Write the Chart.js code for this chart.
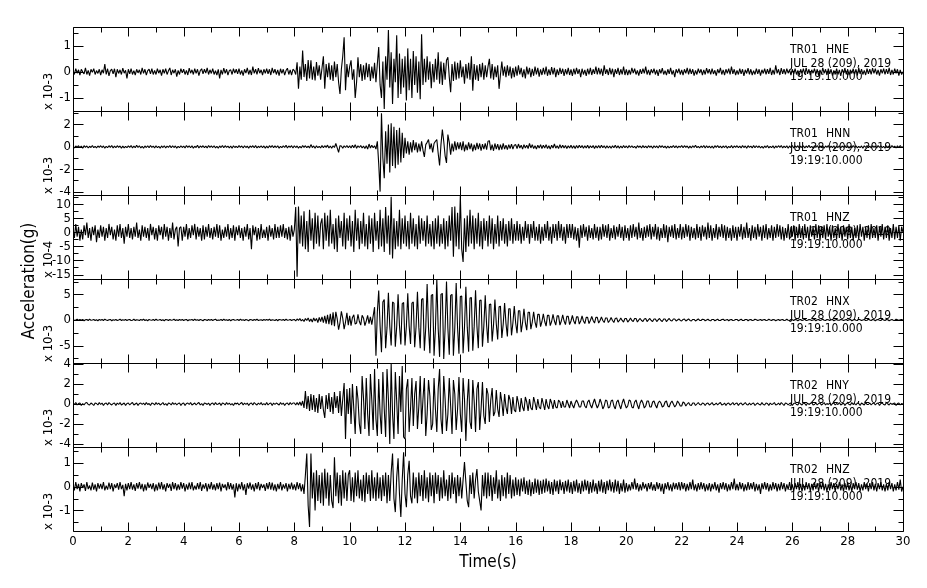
<!DOCTYPE html>
<html>
<head>
<meta charset="utf-8">
<script src="https://cdn.jsdelivr.net/npm/chart.js@4.4.1/dist/chart.umd.min.js"></script>
<style>
  html, body { margin: 0; padding: 0; background: #fff; }
  #wrap { position: relative; width: 927px; height: 588px; }
</style>
</head>
<body>
<div id="wrap"><canvas id="seis"></canvas></div>
<script>
// sample interval of the traces (s)
const DT = 0.05;

// TR01 HNE, x 10-3 g
const TR01_HNE = [
  .05,-.1,.12,-.05,.08,-.12,.1,0,-.08,.15,-.1,.06,-.14,.1,-.02,.12,-.1,.05,-.06,.1,
  -.12,.08,-.05,.3,-.1,.12,-.15,.05,.1,-.08,.12,-.2,.1,-.06,.08,-.1,.14,-.05,.06,-.25,
  .1,-.08,.12,-.1,.05,-.12,.1,-.04,.08,-.1,.15,-.06,.1,-.12,.05,.1,-.08,.12,-.1,.06,
  -.1,.12,-.05,.08,-.14,.1,-.06,.12,-.1,.04,.15,-.12,.08,-.05,.1,-.18,.06,-.1,.12,-.04,
  .1,-.1,.06,-.12,.14,-.05,.08,-.1,.12,-.06,.1,-.14,.05,.12,-.08,.1,-.05,.15,-.1,.08,
  -.06,.12,-.1,.05,-.12,.1,-.25,.08,-.1,.14,-.06,.1,-.12,.05,.08,-.1,.12,-.05,.1,-.08,
  .12,-.1,.06,-.14,.1,-.05,.15,-.1,.08,-.12,.2,-.06,.1,-.1,.14,-.05,.08,-.12,.1,-.06,
  .12,-.08,.1,-.12,.15,-.05,.1,-.1,.08,-.14,.12,-.06,.1,-.12,.05,.14,-.1,.08,-.12,.1,
  .05,-.1,.37,-.65,.2,-.3,.82,-.2,.3,-.35,.45,-.25,.44,-.3,.2,-.33,.38,-.15,.25,-.3,
  .15,.6,-.65,.3,-.2,.35,-.3,.25,-.35,.4,-.2,.3,-.4,-.85,.1,.6,1.33,-.7,.3,-.2,
  .2,.44,-.3,.1,-1.0,-.4,.56,-.2,.3,-.35,.25,-.3,.35,-.2,.3,-.35,.2,-.25,.35,-.4,
  .3,.95,-.5,-1.0,.4,-1.42,.6,-.3,1.6,-.6,.75,-1.23,.5,-.4,1.4,-1.0,.7,-.85,.5,-.6,
  .6,-1.1,.9,-.7,.5,-1.0,.8,-.5,.6,-.8,.4,-1.05,1.44,-.5,.5,-.4,.6,-.3,.4,-.63,
  .3,-.4,.5,-.3,.75,-.45,.4,-.5,.35,-.3,.45,.56,-.2,-.78,.3,-.35,.4,-.3,.35,-.25,
  .44,-.2,.2,-.45,.3,-.25,.35,-.3,.6,-.72,.3,-.3,.25,-.35,.3,-.2,.35,-.3,.25,-.2,
  .2,.5,-.25,.3,-.3,.2,-.2,.25,-.65,-.1,.4,-.15,.2,-.2,.25,-.15,.2,-.25,.15,-.2,
  .2,-.15,.25,-.1,.15,-.2,.1,-.25,.2,-.1,.15,-.2,.12,-.15,.2,-.1,.15,-.18,.1,-.12,
  .15,-.1,.2,-.15,.1,-.12,.18,-.1,.15,-.2,.1,-.12,.15,-.08,.12,-.15,.1,-.1,.15,-.12,
  .1,-.15,.12,-.1,.15,-.08,.1,-.2,.12,-.1,.08,-.15,.12,-.1,.15,-.12,.1,-.08,.2,-.1,
  .15,-.1,.12,-.15,.25,-.08,.1,-.12,.15,-.1,.12,-.2,.1,-.08,.15,-.12,.1,-.1,.2,-.12,
  .1,-.12,.08,-.1,.15,-.05,.12,-.1,.06,-.14,.1,-.08,.12,-.06,.2,-.1,.08,-.12,.1,-.05,
  .12,-.1,.08,-.15,.1,-.06,.14,-.1,.05,-.12,.1,-.08,.15,-.1,.06,-.2,.1,-.05,.12,-.1,
  .08,-.12,.1,-.06,.15,-.1,.12,-.08,.1,-.14,.06,-.1,.12,-.05,.1,-.12,.08,-.1,.14,-.06,
  .1,-.1,.12,-.08,.06,-.14,.1,-.05,.15,-.1,.08,-.12,.1,-.06,.12,-.1,.2,-.08,.1,-.12,
  .06,-.1,.12,-.08,.1,-.15,.08,-.06,.14,-.1,.1,-.12,.05,-.1,.12,-.08,.1,-.14,.08,-.06,
  .12,-.1,.1,-.08,.15,-.12,.08,-.1,.25,-.06,.1,-.12,.14,-.08,.1,-.1,.12,-.05,.08,-.12,
  .1,-.08,.12,-.1,.06,-.14,.1,-.06,.12,-.1,.15,-.08,.1,-.12,.08,-.05,.12,-.1,.1,-.14,
  .08,-.1,.15,-.06,.1,-.12,.12,-.08,.1,-.14,.06,-.1,.12,-.1,.08,-.15,.1,-.05,.14,-.1,
  .1,-.12,.08,-.06,.12,-.1,.1,-.14,.15,-.08,.1,-.1,.06,-.12,.12,-.08,.1,-.1,.14,-.06,
  .12,-.1,.08,-.14,.1,-.06,.12,-.1,.1,-.08,.15,-.12,.08,-.1,.12,-.06,.1,-.14,.08,-.1,
  0
];

// TR01 HNN, x 10-3 g
const TR01_HNN = [
  .05,-.1,.08,-.05,.1,-.08,.06,-.12,.1,-.04,.08,-.1,.05,-.06,.12,-.08,.05,-.1,.08,-.05,
  .1,-.06,.08,-.12,.05,-.08,.1,-.05,.12,-.1,.06,-.08,.1,-.04,.08,-.12,.06,-.1,.05,-.08,
  .08,-.05,.12,-.1,.06,-.08,.15,-.06,.1,-.1,.05,-.12,.08,-.06,.1,-.08,.12,-.05,.06,-.1,
  .1,-.08,.05,-.12,.08,-.06,.1,-.1,.06,-.05,.12,-.08,.1,-.06,.08,-.12,.05,-.08,.1,-.06,
  .06,-.1,.12,-.05,.08,-.08,.1,-.12,.05,-.06,.15,-.1,.08,-.05,.1,-.08,.06,-.1,.12,-.05,
  .08,-.06,.1,-.1,.05,-.12,.08,-.06,.12,-.08,.1,-.05,.06,-.1,.08,-.12,.1,-.06,.05,-.08,
  .12,-.05,.08,-.1,.1,-.06,.06,-.12,.08,-.05,.1,-.08,.12,-.1,.05,-.06,.1,-.08,.08,-.12,
  .06,-.1,.1,-.05,.12,-.08,.08,-.06,.1,-.12,.05,-.08,.1,-.06,.15,-.1,.08,-.05,.1,-.1,
  .1,-.06,.08,-.12,.05,-.1,.12,-.05,.1,-.08,.06,-.1,.2,-.06,.08,-.12,.1,-.08,.05,-.1,
  .12,-.08,.1,-.05,.15,-.1,.08,-.12,.1,-.06,.3,-.1,-.5,.1,.08,-.12,.1,-.06,.12,-.08,
  .1,-.1,.15,-.08,.2,-.12,.1,-.06,.12,-.1,.08,-.15,.1,-.2,.25,-.1,.15,-.08,.1,-.2,
  .5,-1.5,-4.0,3.0,-1.0,-2.8,1.4,-1.5,2.0,-2.3,2.1,-1.7,1.8,-1.9,1.5,-1.6,1.7,-1.4,1.25,-1.0,
  .8,-.6,.5,-.7,.4,-.5,.6,-.3,.4,-.5,.3,-.4,.5,-.3,-.9,.2,.4,.65,-.2,.3,
  -.5,.3,.5,.65,-.6,-1.67,.2,1.55,.5,-.8,-1.43,1.1,.4,-.7,.3,-.4,.5,-.3,.4,-.2,
  .4,-.3,.5,-.4,.2,-.3,.4,-.2,.3,-.4,.2,-.3,.35,-.2,.3,-.35,.25,-.2,.3,-.25,
  .5,.55,-.3,.2,-.35,.3,-.2,.25,-.3,.2,-.25,.3,-.2,.15,-.25,.2,-.15,.25,-.2,.15,
  .2,-.15,.25,-.1,.15,-.2,.2,-.1,.15,-.15,.3,-.1,.2,-.15,.1,-.2,.15,-.1,.2,-.15,
  .15,-.1,.2,-.15,.1,-.2,.15,-.1,.25,-.12,.1,-.15,.2,-.1,.15,-.1,.12,-.15,.1,-.1,
  .15,-.12,.1,-.15,.12,-.1,.15,-.08,.12,-.12,.1,-.1,.15,-.12,.1,-.08,.12,-.15,.1,-.1,
  .12,-.1,.15,-.08,.1,-.12,.1,-.1,.08,-.12,.1,-.08,.15,-.1,.1,-.12,.08,-.1,.12,-.08,
  .08,-.1,.12,-.06,.1,-.08,.05,-.12,.1,-.05,.08,-.1,.12,-.08,.06,-.1,.1,-.05,.08,-.12,
  .1,-.06,.08,-.1,.12,-.05,.1,-.08,.06,-.12,.08,-.1,.05,-.06,.12,-.08,.1,-.1,.06,-.05,
  .12,-.08,.1,-.05,.08,-.12,.06,-.1,.1,-.06,.15,-.08,.05,-.1,.08,-.06,.12,-.1,.1,-.08,
  .06,-.1,.08,-.12,.1,-.05,.12,-.08,.06,-.1,.08,-.06,.1,-.12,.05,-.08,.12,-.1,.08,-.05,
  .1,-.08,.06,-.1,.12,-.06,.08,-.12,.1,-.05,.06,-.1,.12,-.08,.1,-.06,.08,-.1,.05,-.12,
  .08,-.06,.12,-.1,.05,-.08,.1,-.12,.08,-.06,.1,-.05,.12,-.1,.06,-.08,.1,-.12,.08,-.06,
  .12,-.1,.08,-.05,.1,-.12,.06,-.08,.1,-.1,.08,-.06,.15,-.08,.05,-.1,.1,-.06,.12,-.08,
  .06,-.08,.1,-.12,.08,-.05,.12,-.1,.06,-.08,.1,-.12,.05,-.06,.1,-.1,.08,-.05,.12,-.08,
  .1,-.12,.06,-.08,.12,-.06,.1,-.1,.05,-.08,.08,-.12,.1,-.06,.12,-.08,.06,-.1,.1,-.05,
  .08,-.1,.12,-.06,.1,-.08,.05,-.12,.1,-.06,.08,-.1,.12,-.05,.06,-.1,.1,-.08,.12,-.06,
  0
];

// TR01 HNZ, x 10-4 g
const TR01_HNZ = [
  1,-2,3,-1.5,2,-3,1,-2.5,2.5,-1,3.5,-2,1.5,-3,2,-1,2.5,-3.5,1,-2,
  2.5,-1.5,2,-3,1.5,-2,3,-1,2,-2.5,1,-3,2.5,-1.5,3,-2,1.5,-4,2,-1.5,
  3,-2,1.5,-2.5,2,-1.5,3.5,-2,1,-3,2.5,-1.5,2,-2,1.5,-3,3,-1,2,-2.5,
  1.5,-3,2.5,-1,2,-2.5,3,-1.5,2,-3,1.5,-2,3.5,-2.5,1,2,-5,1.5,2,-3,
  2,-1.5,3,-2.5,1.5,-2,2.5,-1,3,-2.5,2,-1.5,1.5,-3,2.5,-2.5,2,-1.5,3,-2,
  1.5,-2.5,2,-1.5,3,-2,2.5,-3,1,-2,2,-1.5,3,-2.5,1.5,-2,2.5,-3,2,-1,
  2.5,-2,1.5,-3,2,-1.5,3,-2.5,1.5,-6,2.5,-1,2,-3,1.5,-2.5,3,-2,1,-2,
  2,-3,2.5,-1.5,1.5,-2.5,3,-2,2,-2,2.5,-1.5,3,-2,1.5,-2.5,2,-3,2.5,-1.5,
  1,9,-15.8,9.2,-4,6,-5,7.5,-6,4,-7,8,-3,5,-6,7,-4,6,-5,3,
  5,-6,7,-3,6,-5,8,-4,3,-6,5,-7,6,-2,4,-5,7,-6,5,-3,
  6,-5,4,-7,8,-3,5,-6,4,-4,7,-5,3,-6,6,-4,5,-7,7,-3,
  4,-6,8,-5,5,-7,9,-4,6,-8,12.7,-9.3,5,-6,4,-5,8,-6,5,-4,
  6,-5,4,-6,7,-4,5,-5,3,-6,6,-4,5,-3,4,-5,6,-4,3,-5,
  4,-6,5,-4,6,-5,3,-4,5,-6,4,-5,6,-3,9,-8.7,9.2,-5,7,-6,
  13,-6,-10.5,5,-7,6,-5,8,-4,6,-6,5,-4,7,-5,4,-6,5,-3,4,
  -5,6,-4,5,-6,3,-4,6,-5,4,-3,5,-4,3,-5,4,-3,5,-4,3,
  -3,4,-3,3,-4,2,-3,4,-2,3,-4,3,-2,4,-3,2,-3,3,-4,2,
  -3,3,-2,4,-3,2,-4,3,-2,3,-3,4,-2,3,-3,2,-4,3,-2,3,
  -2,3,-2.5,2,-3,1.5,-5.5,2.5,-2,3,-1.5,2,-3,2.5,-2,1.5,-2.5,3,-2,2,
  -3,2,-2.5,3,-1.5,2.5,-2,3,-3,1.5,-2,2.5,-2.5,2,-1.5,3,-2,2,-3,2.5,
  -2,1.5,-3,2.5,-2,3,-1.5,2,-2.5,3.5,-2,1.5,-3,2,-2,2.5,-1.5,3,-2.5,2,
  -1.5,3,-2.5,2,-3,1.5,-2,3,-2,2.5,-3.5,2,-1.5,2.5,-2,3,-2.5,1.5,-2,3,
  -2.5,2,-2,3,-1.5,2.5,-3,2,-2,1.5,-2.5,3,-2,2,-3,2.5,-1.5,2,-2.5,3.5,
  -2,2.5,-3,1.5,-2,3,-2.5,2,-1.5,3,-2,2.5,-3,2,-2,1.5,-3,2.5,-2,2,
  -3,2,-1.5,3,-2.5,2,-2,3.5,-2,1.5,-3,2.5,-2,2,-2.5,3,-1.5,2,-3,2.5,
  -2,3,-2.5,1.5,-2,2.5,-3,2,-2,3,-1.5,2.5,-2.5,2,-3,1.5,-2,3,-2.5,2,
  -1.5,2.5,-3,2,-2,3,-2,1.5,-2.5,3,-2,2,-3,2.5,-1.5,2,-2.5,3,-2,2.5,
  -3,2,-2,2.5,-2.5,3,-1.5,2,-3,2.5,-2,1.5,-2.5,3,-2,2,-3,2.5,-1.5,2,
  -2.5,3,-2,2,-3,1.5,-2,2.5,-2.5,3,-1.5,2,-3,2,-2,2.5,-2.5,3,-2,1.5,
  -2,2.5,-3,2,-1.5,3,-2.5,2,-2,2.5,-3,1.5,-2,3,-2.5,2,-2,2.5,-3,2,
  0
];

// TR02 HNX, x 10-3 g
const TR02_HNX = [
  .1,-.1,0,.15,-.1,.1,-.05,.1,-.15,.05,.1,-.1,.15,-.05,0,.1,-.1,.05,-.15,.1,
  -.05,.1,-.1,.15,0,-.1,.05,.1,-.15,.05,-.05,.1,-.1,0,.15,-.1,.05,-.05,.1,-.1,
  .05,.1,-.1,-.05,.15,-.1,.05,0,-.1,.1,-.05,.15,-.1,.05,-.15,.1,0,-.05,.1,-.1,
  .15,-.05,0,.1,-.1,.05,-.15,.1,.05,-.1,.1,-.05,0,.15,-.1,.05,-.1,.1,-.05,.1,
  -.1,.05,.1,-.15,.05,0,.1,-.1,.15,-.05,.05,-.1,.1,0,-.15,.1,.05,-.1,.1,-.05,
  .1,-.1,.05,.15,-.1,0,-.05,.1,-.1,.15,-.05,.05,-.1,.1,-.15,.05,.1,-.05,0,.1,
  -.1,.15,-.05,.05,-.1,.1,0,-.15,.1,.05,-.1,.1,-.05,.15,-.1,0,.05,-.1,.1,-.05,
  .1,-.05,.15,-.1,.05,0,-.1,.1,-.15,.1,.05,-.05,.1,-.1,.15,-.05,0,.1,-.1,.05,
  .1,-.2,.2,-.1,.3,-.2,.1,-.3,.3,-.1,.4,-.3,.2,-.4,.4,-.2,.3,-.5,.5,-.3,
  .6,-.5,.8,-.7,1.0,-.8,1.2,-1.0,1.5,-1.2,1.6,.2,-1.9,-.5,1.7,.3,-1.8,-.4,1.4,-1.0,
  .8,-1.1,.5,1.0,-.8,-.6,1.1,-.3,-1.0,.9,.4,-1.1,-.2,.9,-.7,.6,-.9,.8,2.5,-7,
  1.5,5.75,-1.2,-6.3,3.5,4,-5.5,-1.5,5.3,-1.2,-5,3.5,3.3,-5.2,-1.3,5,-1.1,-4.8,3.2,3.4,
  -5,-1.2,5.2,-1.2,-4.7,3.3,3.5,-5.3,-1.3,5.5,-1.4,-5.5,4,4.2,-6,-1.5,7,-1.6,-6.5,4.8,
  5,-7,-1.7,7.9,-1.7,-7.2,5,5.2,-7.6,-1.6,7.5,-1.6,-6.8,4.8,5,-7,-1.5,7.2,-1.5,-6.6,
  4.6,4.7,-6.5,-1.4,6.5,-1.4,-6.2,4.3,4.4,-6,-1.3,5.8,-1.2,-5.5,3.8,3.9,-5.2,-1.1,4.8,-1,
  -4.5,3,3.1,-4.2,-.9,4,-.8,-3.8,2.6,2.7,-3.5,-.8,3.3,-.7,-3.2,2.2,2.2,-3,-.6,2.7,
  -.6,-2.6,1.8,1.8,-2.4,-.5,2.2,-.5,-2,1.5,1.5,-1.8,-.4,1.6,-.4,-1.5,1.1,1.1,-1.3,-.3,
  1.2,-.3,-1.2,.9,.9,-1.1,-.3,1.1,-.2,-1,.8,.8,-1,-.2,1,-.2,-.9,.7,.7,-.9,
  -.2,.9,-.2,-.8,.6,.6,-.8,-.2,.8,-.2,-.7,.5,.5,-.7,-.1,.7,-.1,-.6,.5,.5,
  -.6,-.1,.6,-.1,-.5,.4,.4,-.5,-.1,.5,-.1,-.5,.3,.4,-.4,-.1,.4,-.1,-.4,.3,
  .3,-.4,-.1,.4,-.1,-.3,.3,.3,-.4,0,.3,-.1,-.3,.2,.3,-.3,0,.3,-.1,-.3,
  .2,.2,-.3,0,.3,-.1,-.3,.2,.2,-.3,0,.3,-.1,-.2,.2,.2,-.2,0,.2,-.1,
  -.2,.1,.2,-.2,0,.2,-.1,-.2,.1,.1,-.2,0,.2,-.1,-.1,.15,.1,-.15,0,.15,
  -.1,-.15,.1,.1,-.15,0,.15,-.1,-.1,.1,.15,-.1,0,.1,-.15,.05,.1,-.1,-.05,.1,
  .1,-.15,0,.15,-.1,-.1,.1,.1,-.15,.05,.1,-.1,-.05,.15,.05,-.1,0,.1,-.1,.05,
  .1,-.1,-.05,.15,0,-.1,.1,.05,-.15,0,.1,-.1,.05,.1,-.1,-.05,.15,-.05,-.1,.1,
  .05,-.1,.1,.05,-.15,.05,.1,-.1,0,.15,-.1,-.05,.1,.05,-.1,0,.1,-.15,.05,.1,
  -.1,0,.15,-.05,-.1,.1,.05,-.1,.05,.1,-.15,0,.1,-.05,-.05,.1,.05,-.1,0,.1,
  -.1,.05,.1,-.15,0,.1,-.05,-.1,.15,.05,-.1,0,.1,-.1,-.05,.15,0,-.1,.1,.05,
  -.15,.05,.1,-.05,-.1,.15,0,-.1,.1,.05,-.15,0,.1,-.05,-.1,.15,.05,-.1,.05,.1,
  0
];

// TR02 HNY, x 10-3 g
const TR02_HNY = [
  .1,-.05,.15,-.1,.05,.1,-.15,.05,-.1,.1,.15,-.05,-.1,.1,0,-.15,.1,.05,-.1,.15,
  -.05,.1,-.15,.05,.1,-.1,.15,0,-.1,.05,.1,-.15,.1,-.05,.15,-.1,0,.1,-.15,.05,
  .1,-.1,.05,.15,-.1,0,.1,-.15,.05,.1,-.05,.1,-.1,.15,-.05,.05,-.15,.1,.05,-.1,
  .15,-.05,.1,-.1,0,.15,-.1,.05,-.15,.1,.05,-.1,.15,-.05,.1,-.1,.05,.1,-.15,.05,
  .1,-.15,.05,.1,-.05,.15,-.1,0,.1,-.1,.05,.15,-.1,.05,-.15,.1,.05,-.05,.1,-.15,
  .05,.1,-.1,.15,-.05,0,.1,-.15,.1,.05,-.1,.15,-.05,.1,-.1,.05,-.15,.1,0,.1,
  -.1,.05,.15,-.1,.1,-.05,.1,-.15,.05,.1,-.1,.15,0,-.1,.1,-.05,.15,-.1,.05,-.1,
  .15,-.1,.05,.1,-.15,.1,-.05,.1,0,-.1,.15,-.05,.1,-.15,.05,.1,-.1,.15,-.05,.1,
  .1,-.1,.15,-.1,.2,-.15,.3,-.4,1.3,-.5,.8,-.7,1.0,-.6,.9,-.8,.6,-.9,1.0,-.5,
  .8,-.6,-1.4,.9,-.5,1.1,-.8,.7,-1,1.2,-.4,.8,-.9,1.3,-1.2,.5,2.1,-3.5,1.5,-1,
  1.6,-2,2.0,-.5,-3,1.8,.5,-2,-3,2.8,.6,-2.5,2.6,-1,-3.2,3,.4,-2.6,3.5,-1.5,
  -3.2,2.5,-1,-3,3.2,-.5,-3.3,3.5,.5,-4,4,-1,-3.5,3.2,.3,-3,2.8,-.8,3.8,-3.3,
  -3.5,1.5,2.5,-2.8,-.5,2.6,-2.2,1,2.3,-2.5,-.2,2.8,-2,.5,2.6,-3.2,-1,2.4,.8,-2.6,
  -2,2.6,-.5,-2.8,1.5,3.5,-1.5,-3,2.8,.5,-2.7,-1,2.6,-.2,-3,2.4,1,-2.6,-.5,2.7,
  -1,-2.8,2.6,.5,-3.7,.2,2.5,-1.8,-2.5,2.4,.3,-2.8,1.5,2.2,-2.6,-.5,2.2,-1.2,-2,1.6,
  1,-1.8,.4,1.6,-1.2,-.8,1.4,-.5,-1.3,1.2,.2,-1.2,1,-.3,-1,.9,.4,-1,.7,-.6,
  -.8,.8,.1,-.8,.6,-.3,-.7,.7,.2,-.7,.5,-.4,-.6,.7,.1,-.6,.5,-.3,-.5,.6,
  0,-.6,.5,-.2,-.5,.5,.1,-.5,.4,-.3,-.4,.4,.2,-.4,.3,-.3,-.3,.4,0,-.4,
  .3,-.1,-.4,.1,.4,.1,-.3,-.3,.3,.3,-.2,-.4,.2,.4,-.1,-.4,.1,.5,0,-.4,
  -.1,.5,.1,-.5,-.2,.4,.3,-.4,-.3,.3,.4,-.2,-.5,.2,.4,-.1,-.5,.1,.5,0,
  -.4,-.2,.4,.3,-.3,-.4,.2,.4,-.1,-.5,.1,.4,.1,-.4,-.2,.3,.3,-.3,-.3,.2,
  .3,-.1,-.4,.1,.3,.1,-.3,-.2,.2,.3,-.2,-.3,.1,.3,0,-.3,-.1,.3,.1,-.2,
  -.2,.2,.1,-.2,0,.15,-.1,-.15,.1,.1,-.15,0,.15,-.05,-.1,.1,.05,-.15,.05,.1,
  -.1,0,.15,-.1,-.05,.1,-.1,.05,.15,-.1,-.05,.1,-.15,.05,.1,-.1,0,.15,-.1,.05,
  .1,-.15,.05,.1,-.1,0,.15,-.05,-.1,.1,-.1,.05,.1,-.15,0,.1,-.05,-.1,.15,-.05,
  -.1,.1,.05,-.15,.1,-.05,0,.15,-.1,-.05,.1,-.1,.15,0,-.15,.1,.05,-.1,.05,.1,
  -.15,.05,.1,-.05,-.1,.15,0,-.1,.1,.05,-.15,.1,-.05,.05,.15,-.1,-.05,.1,-.1,.05,
  .1,-.1,0,.15,-.1,.05,-.05,.1,-.15,.05,.1,-.1,.05,-.05,.15,-.1,0,.1,-.15,.05,
  .1,-.05,-.1,.15,-.05,.05,-.1,.1,.05,-.15,.1,0,-.1,.15,-.05,-.05,.1,-.1,.05,.1,
  -.1,.05,.1,-.15,.05,.1,-.05,-.1,.15,0,-.1,.1,-.05,.05,.1,-.15,.05,.1,-.1,.05,
  0
];

// TR02 HNZ, x 10-3 g
const TR02_HNZ = [
  .1,-.15,.2,-.1,.12,-.2,.15,-.05,.1,-.18,.2,-.1,.05,-.15,.18,-.12,.1,-.2,.15,-.08,
  .12,-.1,.2,-.15,.05,-.12,.18,-.1,.15,-.2,.1,-.05,.15,-.12,.2,-.1,.08,-.4,.12,-.15,
  .15,-.1,.2,-.12,.1,-.18,.15,-.08,.2,-.1,.12,-.2,.1,-.15,.18,-.05,.12,-.1,.15,-.2,
  .1,-.15,.18,-.1,.2,-.12,.1,-.2,.15,-.05,.12,-.18,.2,-.1,.15,-.15,.1,-.12,.2,-.08,
  .15,-.2,.1,-.12,.18,-.1,.2,-.15,.05,-.12,.15,-.1,.2,-.18,.1,-.08,.15,-.2,.12,-.1,
  .2,-.12,.1,-.15,.15,-.1,.18,-.2,.12,-.05,.1,-.15,.2,-.1,.15,-.12,.1,-.45,.15,-.2,
  .12,-.1,.2,-.15,.1,-.35,.15,-.08,.18,-.12,.1,-.2,.15,-.1,.2,-.15,.12,-.05,.1,-.18,
  .15,-.1,.2,-.12,.18,-.15,.1,-.2,.12,-.1,.2,-.15,.1,-.08,.15,-.2,.12,-.1,.18,-.12,
  .1,-.15,.2,-.1,.15,-.2,.1,-.3,.5,1.4,-.8,-1.7,1.4,-.5,.6,-1.0,.7,-.6,.5,-.7,
  .6,-.8,.76,-.5,.6,-.8,.5,-.6,-.9,1.25,-.4,.6,-.7,.5,-.8,.7,-.5,.6,-.6,.5,
  .7,-.6,.4,-.65,.6,-.4,.7,-.5,.3,-.6,.5,-.65,.6,-.3,.5,-.6,.7,-.5,.4,-.6,
  .6,-.5,.4,-.6,.5,-.4,.6,-.7,.5,-.6,.6,1.4,-.5,-1.07,.4,1.2,-.3,-1.28,.3,1.46,
  -.3,-.86,.5,1.1,-.4,-.7,.6,-.5,.4,-.7,.6,-.4,.5,-.6,.7,-.5,.4,-.65,.6,-.4,
  .5,-.7,.6,-.3,.5,-.6,.4,-.5,.7,-.4,.3,-.6,.5,-.5,.6,-.3,.4,-.7,.5,-.4,
  .4,-.5,.3,1.04,.2,-.6,-.86,.5,-.3,.6,-.5,.3,.75,-.2,-.6,-1.0,.5,-.4,.6,-.5,
  .6,-.4,.5,-.6,.4,-.3,.7,-.5,.3,-.6,.5,-.4,.4,-.5,.6,-.3,.5,-.5,.3,-.4,
  .4,-.35,.3,-.4,.35,-.2,.4,-.3,.25,-.35,.3,-.4,.2,-.3,.35,-.25,.3,-.35,.25,-.3,
  .3,-.25,.35,-.2,.25,-.3,.2,-.35,.3,-.2,.25,-.3,.3,-.15,.2,-.3,.25,-.2,.3,-.25,
  .2,-.3,.25,-.2,.3,-.25,.15,-.3,.25,-.2,.3,-.15,.25,-.3,.2,-.25,.3,-.2,.15,-.3,
  .25,-.2,.3,-.25,.2,-.3,.25,-.15,.3,-.2,.2,-.25,.3,-.2,.25,-.3,.15,-.2,.3,-.25,
  .15,-.2,.1,-.15,.2,-.1,.35,-.12,.15,-.2,.1,-.15,.2,-.08,.12,-.2,.15,-.1,.2,-.15,
  .1,-.18,.2,-.1,.15,-.2,.12,-.3,.15,-.1,.2,-.15,.1,-.2,.18,-.1,.15,-.12,.2,-.15,
  .2,-.1,.15,-.2,.12,-.15,.2,-.1,.3,-.15,.1,-.2,.15,-.12,.2,-.1,.15,-.2,.1,-.15,
  .15,-.2,.12,-.1,.2,-.15,.1,-.25,.15,-.1,.2,-.12,.15,-.2,.1,-.15,.2,-.1,.35,-.15,
  .12,-.15,.2,-.1,.15,-.2,.1,-.15,.2,-.12,.15,-.1,.2,-.2,.12,-.15,.1,-.3,.15,-.1,
  .2,-.12,.15,-.2,.1,-.15,.2,-.1,.15,-.2,.12,-.15,.2,-.1,.15,-.2,.1,-.12,.2,-.15,
  .1,-.2,.15,-.1,.2,-.15,.12,-.2,.1,-.15,.2,-.1,.15,-.2,.12,-.15,.2,-.1,.15,-.2,
  .15,-.1,.2,-.15,.12,-.2,.1,-.15,.2,-.1,.15,-.2,.12,-.1,.2,-.15,.1,-.2,.15,-.12,
  .2,-.15,.1,-.2,.15,-.1,.2,-.12,.15,-.2,.1,-.15,.2,-.1,.12,-.2,.15,-.1,.2,-.15,
  .12,-.2,.15,-.1,.2,-.15,.1,-.2,.12,-.15,.2,-.1,.15,-.2,.1,-.15,.2,-.12,.3,-.2,
  0
];

// panel labels, top to bottom
const STATIONS = ['TR01', 'TR01', 'TR01', 'TR02', 'TR02', 'TR02'];
const CHANNELS = ['HNE', 'HNN', 'HNZ', 'HNX', 'HNY', 'HNZ'];
const EXPONENTS = ['-3', '-3', '-4', '-3', '-3', '-3'];
const REC_DATE = 'JUL 28 (209), 2019';
const REC_TIME = '19:19:10.000';

// axis ranges and tick steps per panel
const Y_MIN = [-1.5, -4.3, -16.6, -8.4, -4.3, -1.87];
const Y_MAX = [1.72, 3.2, 13.3, 8.0, 4.1, 1.68];
const Y_STEP = [1, 2, 5, 5, 2, 1];
const Y_MINOR = [0.5, 1, 2.5, 2.5, 1, 0.5];
const X_MIN = 0, X_MAX = 30, X_STEP = 2, X_MINOR = 1;

const TRACES = [TR01_HNE, TR01_HNN, TR01_HNZ, TR02_HNX, TR02_HNY, TR02_HNZ];
const FONT = "'Liberation Sans Narrow', 'DejaVu Sans Condensed', 'Roboto Condensed', sans-serif";

const ids = TRACES.map((_, p) => 'p' + p);

const datasets = TRACES.map((arr, p) => ({
  data: arr.map((v, i) => ({ x: i * DT, y: v })),
  yAxisID: ids[p],
  borderColor: '#000',
  borderWidth: 1.1,
  borderJoinStyle: 'bevel',
  pointRadius: 0,
  tension: 0,
  fill: false
}));

// tick values at whole multiples of the major step only
function majorTicks(p) {
  const out = [];
  const k0 = Math.ceil(Y_MIN[p] / Y_STEP[p] - 1e-9);
  const k1 = Math.floor(Y_MAX[p] / Y_STEP[p] + 1e-9);
  for (let k = k1; k >= k0; k--) out.push({ value: k * Y_STEP[p] });
  return out;
}

const scales = {
  x: {
    type: 'linear',
    position: 'bottom',
    min: X_MIN,
    max: X_MAX,
    grid: { display: false, drawTicks: false },
    border: { display: false },
    ticks: { stepSize: X_STEP, autoSkip: false, maxRotation: 0, padding: 3, color: '#000', font: { family: FONT, size: 13 } },
    afterFit: s => { s.height = 57; }
  }
};
// left stacked axes: the last one defined ends up on top
for (let p = TRACES.length - 1; p >= 0; p--) {
  scales[ids[p]] = {
    type: 'linear',
    position: 'left',
    stack: 'traces',
    stackWeight: 1,
    min: Y_MIN[p],
    max: Y_MAX[p],
    grid: { display: false, drawTicks: false },
    border: { display: false },
    ticks: { autoSkip: false, padding: 2, color: '#000', font: { family: FONT, size: 13 } },
    afterBuildTicks: s => { s.ticks = majorTicks(p); },
    afterFit: s => { s.width = 73; }
  };
}

// frames, inward ticks and panel texts
const framePlugin = {
  id: 'frames',
  afterDraw(chart) {
    const ctx = chart.ctx;
    const xs = chart.scales.x;
    const L = Math.round(chart.chartArea.left) + 0.5;
    const R = Math.round(chart.chartArea.right) + 0.5;
    ctx.save();
    ctx.strokeStyle = '#000';
    ctx.lineWidth = 1;
    ids.forEach((id, p) => {
      const ys = chart.scales[id];
      const T = Math.round(ys.top) + 0.5;
      const B = Math.round(ys.bottom) + 0.5;
      ctx.beginPath();
      ctx.rect(L, T, R - L, B - T);
      // time ticks, top and bottom of each panel
      for (let k = 0; k <= (X_MAX - X_MIN) / X_MINOR; k++) {
        const t = X_MIN + k * X_MINOR;
        const x = Math.round(xs.getPixelForValue(t)) + 0.5;
        const len = (t % X_STEP === 0) ? 9 : 5;
        ctx.moveTo(x, T); ctx.lineTo(x, T + len);
        ctx.moveTo(x, B); ctx.lineTo(x, B - len);
      }
      // amplitude ticks, left and right
      const k0 = Math.ceil(Y_MIN[p] / Y_MINOR[p] - 1e-9);
      const k1 = Math.floor(Y_MAX[p] / Y_MINOR[p] + 1e-9);
      for (let k = k0; k <= k1; k++) {
        const v = k * Y_MINOR[p];
        const y = Math.round(ys.getPixelForValue(v)) + 0.5;
        const r = v / Y_STEP[p];
        const len = Math.abs(r - Math.round(r)) < 1e-6 ? 10 : 5;
        ctx.moveTo(L, y); ctx.lineTo(L + len, y);
        ctx.moveTo(R, y); ctx.lineTo(R - len, y);
      }
      ctx.stroke();

      // station / channel / date block
      ctx.fillStyle = '#000';
      ctx.font = '12px ' + FONT;
      ctx.textAlign = 'left';
      ctx.textBaseline = 'alphabetic';
      ctx.fillText(STATIONS[p], 790, ys.top + 26);
      ctx.fillText(CHANNELS[p], 826, ys.top + 26);
      ctx.fillText(REC_DATE, 790, ys.top + 40);
      ctx.fillText(REC_TIME, 790, ys.top + 53);

      // scale factor label
      ctx.save();
      ctx.translate(49, ys.bottom - 1);
      ctx.rotate(-Math.PI / 2);
      ctx.textBaseline = 'middle';
      ctx.font = '13px ' + FONT;
      ctx.fillText('x 10' + EXPONENTS[p], 0, 0);
      ctx.restore();
    });

    // axis titles
    ctx.font = '17px ' + FONT;
    ctx.textAlign = 'center';
    ctx.textBaseline = 'middle';
    ctx.fillText('Time(s)', 488, 563);
    ctx.save();
    ctx.translate(30, 281);
    ctx.rotate(-Math.PI / 2);
    ctx.fillText('Acceleration(g)', 0, 0);
    ctx.restore();
    ctx.restore();
  }
};

new Chart(document.getElementById('seis'), {
  type: 'line',
  data: { datasets },
  options: {
    responsive: true,
    maintainAspectRatio: false,
    animation: false,
    events: [],
    layout: { padding: { top: 27, right: 24, left: 0, bottom: 0 } },
    plugins: { legend: { display: false }, tooltip: { enabled: false } },
    scales
  },
  plugins: [framePlugin]
});
</script>
</body>
</html>
